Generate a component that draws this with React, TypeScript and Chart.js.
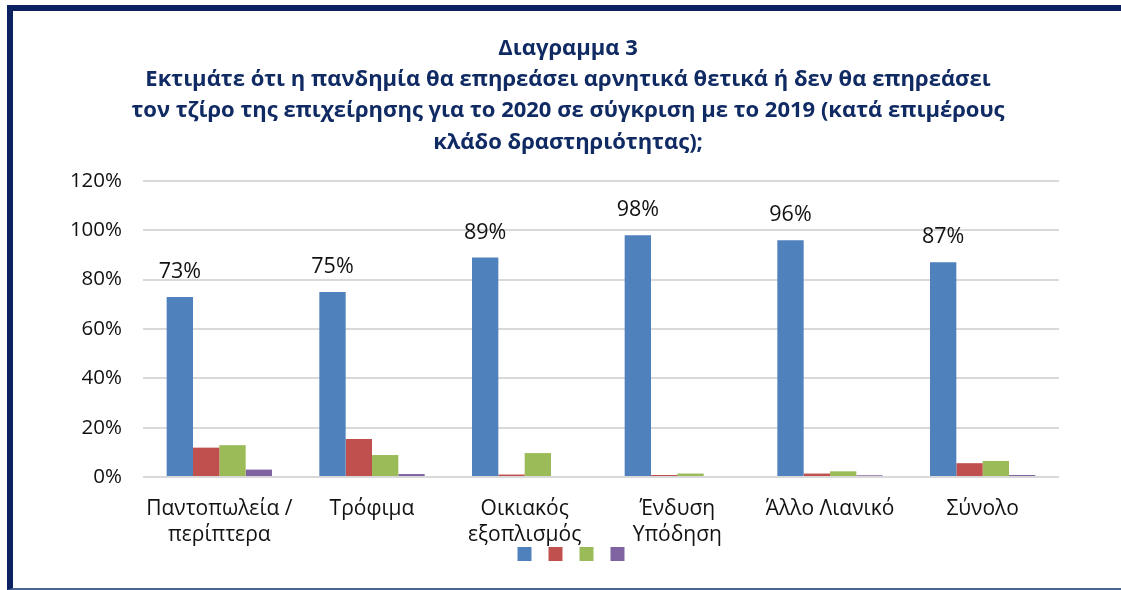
import React, { useEffect, useRef } from "react";
import { Chart, registerables } from "chart.js";

Chart.register(...registerables);

const categories: (string | string[])[] = [
  ["Παντοπωλεία /", "περίπτερα"],
  "Τρόφιμα",
  ["Οικιακός", "εξοπλισμός"],
  ["Ένδυση", "Υπόδηση"],
  "Άλλο Λιανικό",
  "Σύνολο",
];

const seriesNames = ["Αρνητικά", "Θετικά", "Δεν θα επηρεάσει", "Δεν γνωρίζω"];
const blueValues = [73, 75, 89, 98, 96, 87];
const redValues = [11.9, 15.4, 1.0, 0.8, 1.4, 5.6];
const greenValues = [12.9, 8.9, 9.7, 1.4, 2.3, 6.5];
const purpleValues = [3.0, 1.2, 0, 0, 0.7, 0.8];
const seriesColors = ["#4f81bd", "#c0504d", "#9bbb59", "#8064a2"];

const yTicks = [0, 20, 40, 60, 80, 100, 120];

const titleLines = [
  "Διαγραμμα 3",
  "Εκτιμάτε ότι η πανδημία θα επηρεάσει αρνητικά θετικά ή δεν θα επηρεάσει",
  "τον τζίρο της επιχείρησης για το 2020 σε σύγκριση με το 2019 (κατά επιμέρους",
  "κλάδο δραστηριότητας);",
];

const FONT = "'Open Sans', 'Noto Sans', sans-serif";

const barLabelPlugin = {
  id: "barLabels",
  afterDatasetsDraw(chart: any) {
    const ctx = chart.ctx;
    const meta = chart.getDatasetMeta(0);
    const data = chart.data.datasets[0].data as number[];
    ctx.save();
    ctx.font = `21.5px ${FONT}`;
    ctx.fillStyle = "#111";
    ctx.textAlign = "center";
    ctx.textBaseline = "middle";
    meta.data.forEach((bar: any, i: number) => {
      ctx.fillText(Math.round(data[i]) + "%", bar.x, bar.y - 25);
    });
    ctx.restore();
  },
};

// let the two-line category labels extend below the compact x-axis box,
// and nudge the legend row to sit under the middle of the figure
const layoutTweaks = {
  id: "layoutTweaks",
  afterLayout(chart: any) {
    const x = chart.scales.x;
    if (x) x.bottom = x.top + 100;
    const lg = chart.legend;
    if (lg) {
      lg.left += 6;
      lg.right += 6;
    }
  },
};

export default function App() {
  const canvasRef = useRef<HTMLCanvasElement | null>(null);

  useEffect(() => {
    if (!canvasRef.current) return;
    const allValues = [blueValues, redValues, greenValues, purpleValues];
    const chart = new Chart(canvasRef.current, {
      type: "bar",
      data: {
        labels: categories,
        datasets: allValues.map((vals, i) => ({
          label: seriesNames[i],
          data: vals,
          backgroundColor: seriesColors[i],
          borderWidth: 0,
          barPercentage: 1.0,
          categoryPercentage: 0.69,
        })),
      },
      options: {
        responsive: false,
        animation: false,
        layout: { padding: { left: 0, right: 0, top: 0, bottom: 15 } },
        plugins: {
          tooltip: { enabled: false },
          title: {
            display: true,
            text: titleLines,
            color: "#102a63",
            font: { family: FONT, size: 22, weight: "bold", lineHeight: 1.42 },
            padding: { top: 22, bottom: 23 },
          },
          legend: {
            display: true,
            position: "bottom",
            labels: {
              boxWidth: 14,
              boxHeight: 14,
              padding: 11,
              font: { size: 12, family: FONT },
              generateLabels: (c: any) =>
                Chart.defaults.plugins.legend.labels
                  .generateLabels(c)
                  .map((it: any) => ({ ...it, text: "", lineWidth: 0 })),
            },
          },
        },
        scales: {
          x: {
            afterFit: (s: any) => {
              s.height = 59;
            },
            grid: { display: false, drawTicks: false },
            border: { display: false },
            ticks: {
              color: "#111",
              font: { family: FONT, size: 21, lineHeight: 1.24 },
              padding: 19,
              maxRotation: 0,
              autoSkip: false,
            },
          },
          y: {
            min: 0,
            max: 120,
            afterFit: (s: any) => {
              s.width = 128;
            },
            afterBuildTicks: (s: any) => {
              s.ticks = yTicks.map((v) => ({ value: v }));
            },
            grid: { color: "#d9d9d9", lineWidth: 2, drawTicks: false },
            border: { display: false },
            ticks: {
              color: "#111",
              font: { family: FONT, size: 20.5 },
              padding: 21,
              callback: (v: any) => v + "%",
            },
          },
          yRight: {
            position: "right",
            min: 0,
            max: 120,
            afterFit: (s: any) => {
              s.width = 62;
            },
            grid: { display: false, drawTicks: false },
            border: { display: false },
            ticks: { display: false },
          },
        },
      },
      plugins: [barLabelPlugin, layoutTweaks],
    });
    return () => chart.destroy();
  }, []);

  return (
    <div
      style={{
        position: "absolute",
        left: 0,
        top: 0,
        width: 1121,
        height: 590,
        overflow: "hidden",
        background: "#fff",
      }}
    >
      <div
        style={{
          position: "absolute",
          left: 7,
          top: 5,
          width: 1140,
          height: 585,
          boxSizing: "border-box",
          borderTop: "6px solid #0b2160",
          borderLeft: "6px solid #0b2160",
          borderBottom: "2px solid #4a6496",
        }}
      />
      <div style={{ position: "absolute", left: 15, top: 11, width: 1106, height: 575 }}>
        <canvas ref={canvasRef} width={1106} height={575} style={{ display: "block" }} />
      </div>
    </div>
  );
}
